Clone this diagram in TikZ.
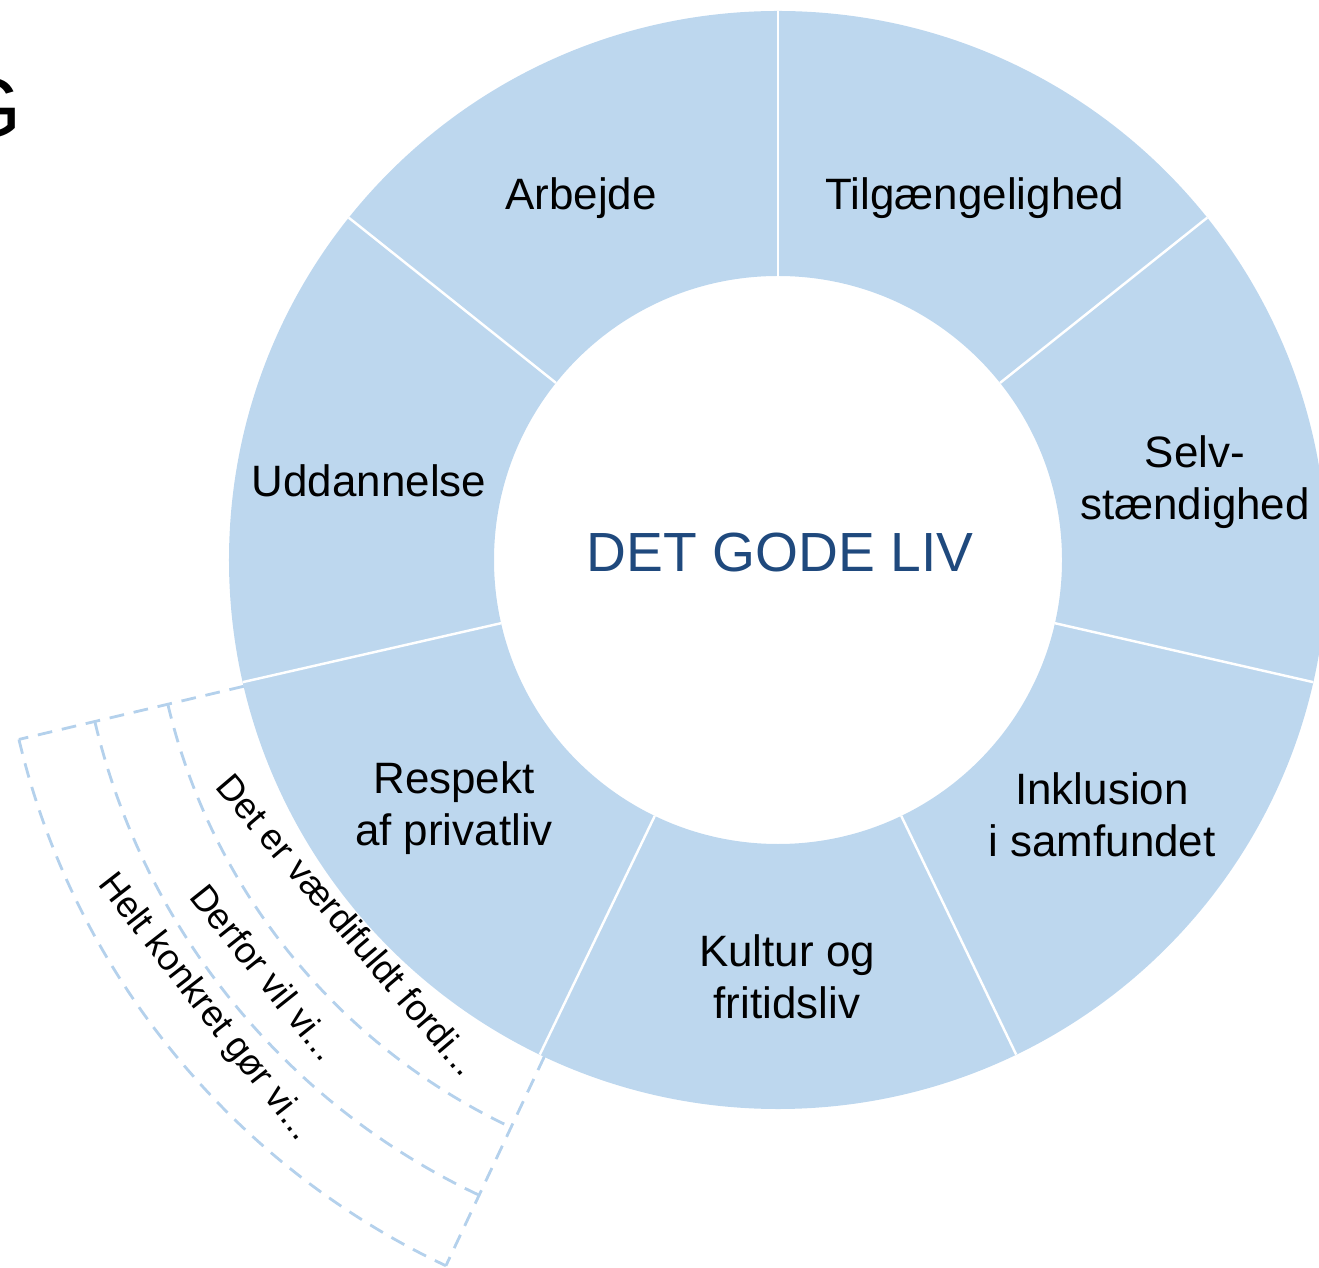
\documentclass[tikz,border=0pt]{standalone}
\usepackage{fontspec}
\setmainfont{Liberation Sans}
\usepackage{xcolor}
\definecolor{ringblue}{HTML}{BDD7EE}
\definecolor{dashblue}{HTML}{B4D1EC}
\definecolor{titleblue}{HTML}{1F497D}
\begin{document}
\begin{tikzpicture}[x=0.1mm,y=0.1mm,
		segtext/.style={align=center,inner sep=0pt,font=\fontsize{12.5pt}{14.8pt}\selectfont},
		bandtext/.style={inner sep=0pt,font=\fontsize{10.4pt}{12pt}\selectfont},
		sepline/.style={white,line width=0.7pt},
		dashline/.style={dashblue,line width=0.8pt,dash pattern=on 4.2pt off 2.8pt}]
		\def \rIn {284};
		\def \rOut {549};
		\def \dA {193.3};
		\def \dB {244.8};
		\useasboundingbox (-778,-707) rectangle (541,560);
		% ring with seven parts
		\fill[ringblue,even odd rule] (0,0) circle[radius=\rOut] (0,0) circle[radius=\rIn];
		\foreach \i [evaluate=\i as \ang using 90+\i*360/7] in {0,...,6}
		{
			\draw[sepline] (\ang:\rIn) -- (\ang:\rOut);
		}
		% dashed bands outside one part
		\draw[dashline] (\dA:\rOut) -- (\dA:780);
		\draw[dashline] (\dB:\rOut) -- (\dB:780);
		\foreach \r in {627,702,780}
		{
			\draw[dashline] (\dA:\r) arc[start angle=\dA, end angle=\dB, radius=\r];
		}
		\node[anchor=base east,inner sep=0pt,font=\fontsize{24.2pt}{29pt}\selectfont] (titel) at (-756,422) {G};
		\node[text=titleblue,inner sep=0pt,font=\fontsize{15.7pt}{19pt}\selectfont] (godeliv) at (2,7) {DET GODE LIV};
		\node[segtext] (arbejde) at (-197,362) {Arbejde};
		\node[segtext] (tilg) at (197,362) {Tilgængelighed};
		\node[segtext] (selv) at (417,78) {Selv-\\stændighed};
		\node[segtext] (inkl) at (324,-255) {Inklusion\\i samfundet};
		\node[segtext] (kultur) at (9,-417) {Kultur og\\fritidsliv};
		\node[segtext] (respekt) at (-324,-248) {Respekt\\af privatliv};
		\node[segtext] (udd) at (-409,79) {Uddannelse};
		\node[bandtext,rotate=-49.6] (vaerdi) at (220.3:564) {Det er værdifuldt fordi...};
		\node[bandtext,rotate=-51.4] (derfor) at (218.8:658) {Derfor vil vi...};
		\node[bandtext,rotate=-52.1] (konkret) at (218:727) {Helt konkret gør vi...};
\end{tikzpicture}
\end{document}
